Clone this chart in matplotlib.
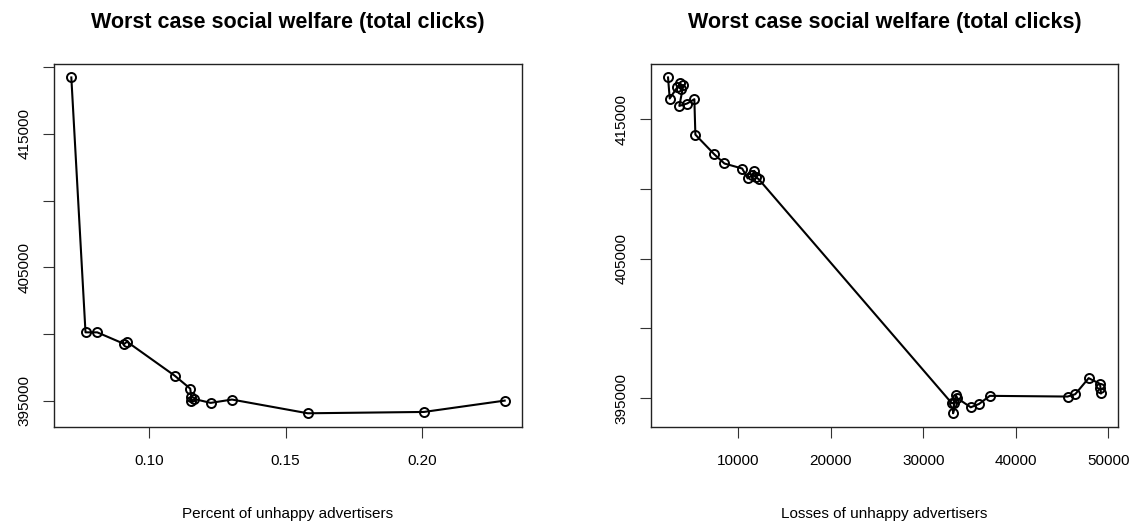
import numpy as np
import matplotlib
matplotlib.use('Agg')
import matplotlib.pyplot as plt

plt.rcParams['font.family'] = ['Liberation Sans', 'DejaVu Sans']

# Worst case clicks against share of unhappy advertisers
pct_unhappy = [0.0714, 0.0766, 0.0809, 0.0908, 0.0918, 0.1093, 0.1150, 0.1154,
               0.1154, 0.1165, 0.1225, 0.1303, 0.1581, 0.2007, 0.2303]
clicks_pct = [419235, 400120, 400120, 399250, 399420, 396870, 395900, 395250,
              394950, 395120, 394830, 395080, 394050, 394150, 395000]

# Worst case clicks against losses of unhappy advertisers
losses = [2383, 2567, 3390, 3715, 3824, 4040, 3607, 4440, 5230, 5340, 7400, 8480,
          10400, 11000, 11500, 11700, 11900, 12200,
          33070, 33320, 33210, 33500, 33670, 35120, 36020, 37180,
          45590, 46420, 47870, 49100, 49150, 49200]
clicks_loss = [418000, 416490, 417300, 417590, 417160, 417450, 415960, 416130, 416440,
               413900, 412480, 411830,
               411470, 410760, 411000, 411300, 410850, 410700,
               394640, 394680, 393920, 395240, 395000, 394350, 394590, 395170,
               395120, 395290, 396440, 396030, 395720, 395350]

title = 'Worst case social welfare (total clicks)'
y_ticks = [395000, 400000, 405000, 410000, 415000, 420000]
y_labels = ['395000', '', '405000', '', '415000', '']


def r_limits(v):
    # base R style axis range: data range padded by 4% on each side
    lo, hi = min(v), max(v)
    pad = (hi - lo) * 0.04
    return lo - pad, hi + pad


def draw(ax, x, y, xlabel, xticks, xticklabels):
    ax.plot(x, y, color='black', lw=1.5, marker='o', ms=6.5, mfc='none',
            mec='black', mew=1.4)
    ax.set_xlim(r_limits(x))
    ax.set_xticks(xticks)
    ax.set_xticklabels(xticklabels)
    ax.set_yticks(y_ticks)
    ax.set_yticklabels(y_labels, rotation=90, va='center')
    ax.set_ylim(r_limits(y))
    ax.tick_params(direction='out', length=8, width=0.8, labelsize=11, color='#333333')
    ax.tick_params(axis='x', pad=12)
    ax.tick_params(axis='y', pad=8)
    for s in ax.spines.values():
        s.set_linewidth(1.0)
        s.set_color('#222222')
    ax.set_xlabel(xlabel, fontsize=11, labelpad=28)
    ax.set_title(title, fontsize=15.5, fontweight='bold', pad=26)


fig = plt.figure(figsize=(11.39, 5.23), dpi=100)
ax1 = fig.add_axes([0.0474, 0.1841, 0.4109, 0.6935])
ax2 = fig.add_axes([0.5713, 0.1841, 0.4105, 0.6935])

draw(ax1, pct_unhappy, clicks_pct, 'Percent of unhappy advertisers',
     [0.10, 0.15, 0.20], ['0.10', '0.15', '0.20'])
draw(ax2, losses, clicks_loss, 'Losses of unhappy advertisers',
     [10000, 20000, 30000, 40000, 50000], ['10000', '20000', '30000', '40000', '50000'])

fig.savefig('out.png', dpi=100)
